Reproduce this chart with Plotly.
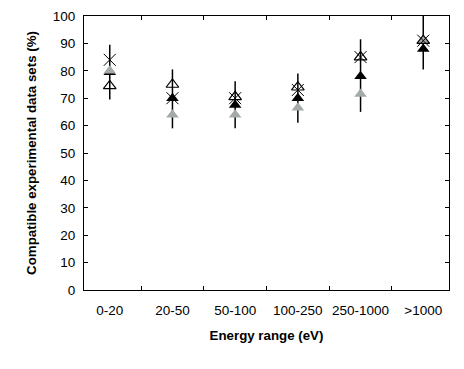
import plotly.graph_objects as go

ranges = ["0-20", "20-50", "50-100", "100-250", "250-1000", ">1000"]

black_tri = [79.5, 70, 67.5, 70, 78, 88]
black_err_plus = [10, 10.5, 8.7, 9, 13.5, 16]
black_err_minus = [10, 11, 8.5, 9, 13, 7.5]
gray_tri = [80, 64, 64, 66.5, 71.5, 91]
open_tri = [74.5, 75, 70.5, 74, 85, 91]
crosses = [84, 70, 70, 73, 85, 91]

fig = go.Figure()

fig.add_trace(go.Scatter(
    x=ranges, y=black_tri, mode="markers",
    marker=dict(symbol="triangle-up", size=11, color="black"),
    error_y=dict(type="data", symmetric=False, array=black_err_plus,
                 arrayminus=black_err_minus, color="black", thickness=1.5, width=0),
))
fig.add_trace(go.Scatter(
    x=ranges, y=gray_tri, mode="markers",
    marker=dict(symbol="triangle-up", size=11, color="#a3aaa7"),
))
fig.add_trace(go.Scatter(
    x=ranges, y=open_tri, mode="markers",
    marker=dict(symbol="triangle-up-open", size=11, color="black",
                line=dict(width=1.2, color="black")),
))
fig.add_trace(go.Scatter(
    x=ranges, y=crosses, mode="markers",
    marker=dict(symbol="x-thin-open", size=12, color="black",
                line=dict(width=1, color="black")),
))

axis_font = dict(family="Liberation Sans, Arial", size=13.5, color="black")
title_font = dict(family="Liberation Sans, Arial", size=13.3, color="black")

fig.update_layout(
    width=464, height=369,
    margin=dict(l=84, r=15, t=16, b=79),
    plot_bgcolor="white", paper_bgcolor="white",
    showlegend=False,
    font=axis_font,
)
fig.update_xaxes(
    type="category", tickson="boundaries", ticks="inside", ticklen=4,
    tickcolor="black", showline=True, linecolor="black", linewidth=1,
    mirror="ticks", showgrid=False, tickfont=axis_font, tickangle=0,
    automargin=False, ticklabelstandoff=8,
    title=dict(text="<b>Energy range (eV)</b>", font=title_font, standoff=13),
)
fig.update_yaxes(
    range=[0, 100], dtick=10, ticks="inside", ticklen=4,
    tickcolor="black", showline=True, linecolor="black", linewidth=1,
    mirror="ticks", showgrid=False, zeroline=False, tickfont=axis_font,
    automargin=False, ticklabelstandoff=5,
    title=dict(text="<b>Compatible experimental data sets (%)</b>", font=title_font, standoff=13),
)

# drop the browser's default 8px body margin so the figure sits at the page corner
fig.write_html("out.html", config={"displayModeBar": False},
               post_script="document.body.style.margin='0';")
